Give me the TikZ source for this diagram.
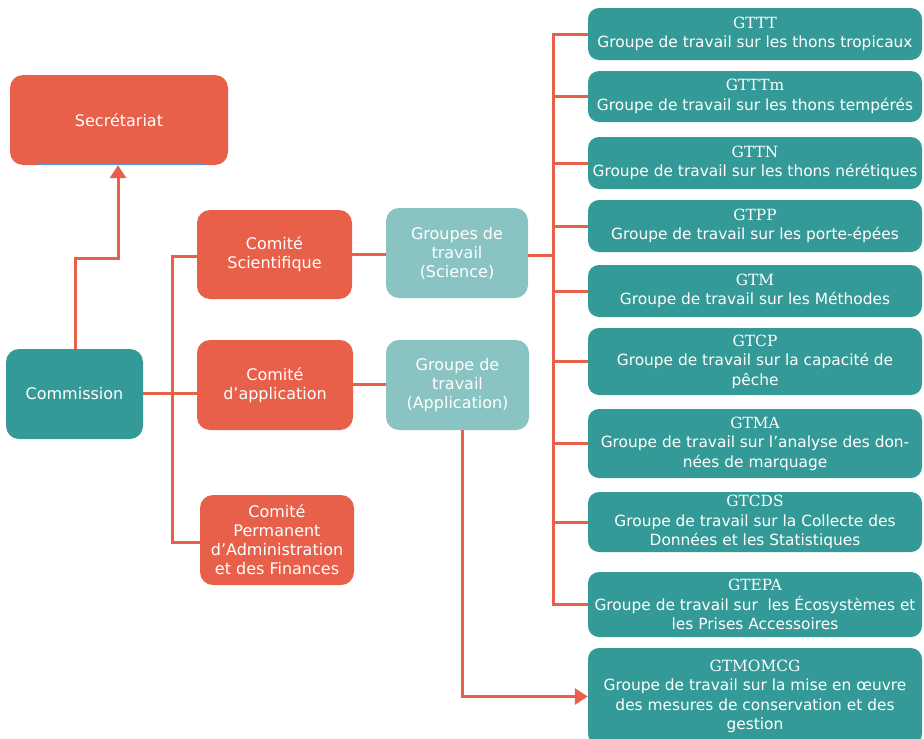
\documentclass[tikz,border=0pt]{standalone}
\usepackage{fontspec}
\setmainfont{DejaVu Sans}
\newfontfamily\acr{DejaVu Serif}
\usetikzlibrary{arrows.meta}
\definecolor{orng}{HTML}{E8604A}
\definecolor{teal1}{HTML}{349A97}
\definecolor{teal2}{HTML}{89C3C2}
\definecolor{blu}{HTML}{5B9BD5}
\begin{document}
\begin{tikzpicture}[x=1pt,y=-1pt,
  base/.style={rounded corners=13pt, text=white, align=center, inner sep=0pt,
     font=\fontsize{16}{19}\selectfont},
  obox/.style={base, fill=orng},
  tbox/.style={base, fill=teal1},
  lbox/.style={base, fill=teal2},
  gbox/.style={base, fill=teal1, rounded corners=11pt, minimum width=334pt, font=\fontsize{15.4}{19.5}\selectfont},
  conn/.style={draw=orng, line width=3pt},
  arr/.style={conn, -{Triangle[width=16pt,length=13pt]}}
]
\useasboundingbox (0,0) rectangle (924,739);
\fill[white] (0,0) rectangle (924,739);

% left part
\node[obox, minimum width=218pt, minimum height=90pt] (sec) at (119,120) {Secrétariat};
\draw[blu, line width=1.5pt] ([xshift=27pt,yshift=0.5pt]sec.south west) -- ([xshift=-23pt,yshift=0.5pt]sec.south east);
\node[tbox, minimum width=137pt, minimum height=90pt] (com) at (74.5,394) {Commission};
\node[obox, minimum width=155pt, minimum height=89pt] (cs) at (274.5,254.5) {Comité\\Scientifique};
\node[obox, minimum width=156pt, minimum height=90pt] (ca) at (275,385) {Comité\\d’application};
\node[obox, minimum width=154pt, minimum height=90pt] (cp) at (277,540) {Comité\\Permanent\\d’Administration\\et des Finances};
\node[lbox, minimum width=142pt, minimum height=90pt] (gs) at (457,253) {Groupes de\\travail\\(Science)};
\node[lbox, minimum width=143pt, minimum height=90pt] (ga) at (457.5,385) {Groupe de\\travail\\(Application)};

% right column
\node[gbox, minimum height=52pt] (g1) at (755,34) {{\acr GTTT}\\Groupe de travail sur les thons tropicaux};
\node[gbox, minimum height=51pt] (g2) at (755,96.5) {{\acr GTTTm}\\Groupe de travail sur les thons tempérés};
\node[gbox, minimum height=52pt] (g3) at (755,163) {{\acr GTTN}\\Groupe de travail sur les thons nérétiques};
\node[gbox, minimum height=52pt] (g4) at (755,226) {{\acr GTPP}\\Groupe de travail sur les porte-épées};
\node[gbox, minimum height=52pt] (g5) at (755,291) {{\acr GTM}\\Groupe de travail sur les Méthodes};
\node[gbox, minimum height=67pt] (g6) at (755,361.5) {{\acr GTCP}\\Groupe de travail sur la capacité de\\pêche};
\node[gbox, minimum height=69pt] (g7) at (755,443.5) {{\acr GTMA}\\Groupe de travail sur l’analyse des don-\\nées de marquage};
\node[gbox, minimum height=60pt] (g8) at (755,522) {{\acr GTCDS}\\Groupe de travail sur la Collecte des\\Données et les Statistiques};
\node[gbox, minimum height=65pt] (g9) at (755,604.5) {{\acr GTEPA}\\Groupe de travail sur\ \ les Écosystèmes et\\les Prises Accessoires};
\node[gbox, minimum height=97pt] (g10) at (755,696.5) {{\acr GTMOMCG}\\Groupe de travail sur la mise en œuvre\\des mesures de conservation et des\\gestion};

% connectors left
\draw[arr] (com.north -| 75,0) |- (118,258) -- (sec.south -| 118,0);
\draw[conn] (com.east |- 0,393) -- (ca.west |- 0,393);
\draw[conn] (cs.west |- 0,256) -| (172,393) |- (cp.west |- 0,542);
\draw[conn] (cs.east |- 0,254) -- (gs.west |- 0,254);
\draw[conn] (ca.east |- 0,384) -- (ga.west |- 0,384);

% right bus
\draw[conn] (gs.east |- 0,255) -- (553,255);
\draw[conn] (g1.west) -| (553,0 |- g9.west) -- (g9.west);
\foreach \g in {g2,g3,g4,g5,g6,g7,g8}{
  \draw[conn] (\g.west) -- (553,0 |- \g.west);
}
\draw[arr] (ga.south -| 462,0) |- (g10.west);
\end{tikzpicture}
\end{document}
